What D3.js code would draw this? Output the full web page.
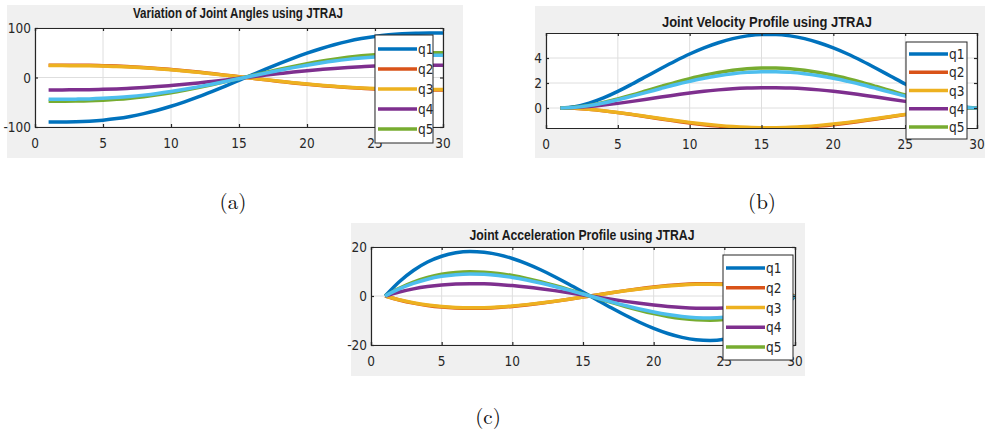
<!DOCTYPE html>
<html>

<head>
  <meta charset="utf-8">
  <script src="https://d3js.org/d3.v7.min.js"></script>
  <title>JTRAJ profiles</title>
  <style>
    body {
      margin: 0px;
      background: #ffffff;
    }

    .tick-label {
      fill: #262626;
      font-size: 13.5px;
      font-family: "Liberation Sans Narrow", "DejaVu Sans Condensed", "Liberation Sans", sans-serif;
      font-stretch: condensed;
    }

    .title {
      fill: #1a1a1a;
      font-size: 14.5px;
      font-weight: bold;
      font-family: "Liberation Sans Narrow", "Liberation Sans", sans-serif;
    }

    .caption {
      fill: #111;
      font-size: 21px;
      font-family: "Latin Modern Roman", "DejaVu Serif", "Liberation Serif", serif;
    }
  </style>
</head>

<body>
  <svg width="985" height="435"></svg>
  <script>

    //data
    const steps = [1, 2, 3, 4, 5, 6, 7, 8, 9, 10, 11, 12, 13, 14, 15, 16, 17, 18, 19, 20, 21, 22, 23, 24, 25, 26, 27, 28, 29, 30];
    const legendLabels = ['q1', 'q2', 'q3', 'q4', 'q5'];

    //joint angles
    const angQ1 = [-90, -89.9, -89.5, -88.3, -86.2, -83.0, -78.6, -73.0, -66.1, -58.1, -49.1, -39.2, -28.5, -17.3, -5.8, 5.8, 17.3, 28.5, 39.2, 49.1, 58.1, 66.1, 73.0, 78.6, 83.0, 86.2, 88.3, 89.5, 89.9, 90];
    const angQ2 = [25, 25.0, 24.9, 24.5, 23.9, 23.1, 21.8, 20.3, 18.4, 16.1, 13.6, 10.9, 7.9, 4.8, 1.6, -1.6, -4.8, -7.9, -10.9, -13.6, -16.1, -18.4, -20.3, -21.8, -23.1, -23.9, -24.5, -24.9, -25.0, -25];
    const angQ3 = [24, 24.0, 23.9, 23.5, 23.0, 22.1, 21.0, 19.5, 17.6, 15.5, 13.1, 10.4, 7.6, 4.6, 1.5, -1.5, -4.6, -7.6, -10.4, -13.1, -15.5, -17.6, -19.5, -21.0, -22.1, -23.0, -23.5, -23.9, -24.0, -24];
    const angQ4 = [-25, -25.0, -24.9, -24.5, -23.9, -23.1, -21.8, -20.3, -18.4, -16.1, -13.6, -10.9, -7.9, -4.8, -1.6, 1.6, 4.8, 7.9, 10.9, 13.6, 16.1, 18.4, 20.3, 21.8, 23.1, 23.9, 24.5, 24.9, 25.0, 25];
    const angQ5 = [-48, -48.0, -47.7, -47.1, -45.9, -44.2, -41.8, -38.7, -35.0, -30.7, -25.7, -20.3, -14.5, -8.4, -2.2, 4.2, 10.4, 16.5, 22.3, 27.7, 32.7, 37.0, 40.7, 43.8, 46.2, 47.9, 49.1, 49.7, 50.0, 50];
    const angQ6 = [-44, -44.0, -43.7, -43.2, -42.1, -40.5, -38.4, -35.6, -32.2, -28.2, -23.8, -18.9, -13.6, -8.1, -2.4, 3.4, 9.1, 14.6, 19.9, 24.8, 29.2, 33.2, 36.6, 39.4, 41.5, 43.1, 44.2, 44.7, 45.0, 45];

    //joint velocities
    const velQ1 = [0, 0.10, 0.39, 0.81, 1.33, 1.92, 2.54, 3.16, 3.76, 4.32, 4.81, 5.22, 5.55, 5.77, 5.88, 5.88, 5.77, 5.55, 5.22, 4.81, 4.32, 3.76, 3.16, 2.54, 1.92, 1.33, 0.81, 0.39, 0.10, 0];
    const velQ2 = [0, -0.03, -0.11, -0.23, -0.37, -0.53, -0.70, -0.88, -1.04, -1.20, -1.34, -1.45, -1.54, -1.60, -1.63, -1.63, -1.60, -1.54, -1.45, -1.34, -1.20, -1.04, -0.88, -0.70, -0.53, -0.37, -0.23, -0.11, -0.03, 0];
    const velQ3 = [0, -0.03, -0.10, -0.22, -0.36, -0.51, -0.68, -0.84, -1.00, -1.15, -1.28, -1.39, -1.48, -1.54, -1.57, -1.57, -1.54, -1.48, -1.39, -1.28, -1.15, -1.00, -0.84, -0.68, -0.51, -0.36, -0.22, -0.10, -0.03, 0];
    const velQ4 = [0, 0.03, 0.11, 0.23, 0.37, 0.53, 0.70, 0.88, 1.04, 1.20, 1.34, 1.45, 1.54, 1.60, 1.63, 1.63, 1.60, 1.54, 1.45, 1.34, 1.20, 1.04, 0.88, 0.70, 0.53, 0.37, 0.23, 0.11, 0.03, 0];
    const velQ5 = [0, 0.06, 0.21, 0.44, 0.73, 1.04, 1.38, 1.72, 2.05, 2.35, 2.62, 2.84, 3.02, 3.14, 3.20, 3.20, 3.14, 3.02, 2.84, 2.62, 2.35, 2.05, 1.72, 1.38, 1.04, 0.73, 0.44, 0.21, 0.06, 0];
    const velQ6 = [0, 0.05, 0.19, 0.40, 0.66, 0.95, 1.25, 1.56, 1.86, 2.13, 2.38, 2.58, 2.74, 2.85, 2.91, 2.91, 2.85, 2.74, 2.58, 2.38, 2.13, 1.86, 1.56, 1.25, 0.95, 0.66, 0.40, 0.19, 0.05, 0];

    //joint accelerations
    const accQ1 = [0, 5.84, 10.43, 13.87, 16.23, 17.62, 18.13, 17.85, 16.88, 15.30, 13.22, 10.71, 7.88, 4.82, 1.62, -1.62, -4.82, -7.88, -10.71, -13.22, -15.30, -16.88, -17.85, -18.13, -17.62, -16.23, -13.87, -10.43, -5.84, 0];
    const accQ2 = [0, -1.62, -2.90, -3.85, -4.51, -4.90, -5.04, -4.96, -4.69, -4.25, -3.67, -2.98, -2.19, -1.34, -0.45, 0.45, 1.34, 2.19, 2.98, 3.67, 4.25, 4.69, 4.96, 5.04, 4.90, 4.51, 3.85, 2.90, 1.62, 0];
    const accQ3 = [0, -1.56, -2.78, -3.70, -4.33, -4.70, -4.84, -4.76, -4.50, -4.08, -3.52, -2.86, -2.10, -1.29, -0.43, 0.43, 1.29, 2.10, 2.86, 3.52, 4.08, 4.50, 4.76, 4.84, 4.70, 4.33, 3.70, 2.78, 1.56, 0];
    const accQ4 = [0, 1.62, 2.90, 3.85, 4.51, 4.90, 5.04, 4.96, 4.69, 4.25, 3.67, 2.98, 2.19, 1.34, 0.45, -0.45, -1.34, -2.19, -2.98, -3.67, -4.25, -4.69, -4.96, -5.04, -4.90, -4.51, -3.85, -2.90, -1.62, 0];
    const accQ5 = [0, 3.18, 5.68, 7.55, 8.84, 9.59, 9.87, 9.72, 9.19, 8.33, 7.20, 5.83, 4.29, 2.63, 0.88, -0.88, -2.63, -4.29, -5.83, -7.20, -8.33, -9.19, -9.72, -9.87, -9.59, -8.84, -7.55, -5.68, -3.18, 0];
    const accQ6 = [0, 2.89, 5.16, 6.86, 8.02, 8.71, 8.96, 8.83, 8.35, 7.57, 6.53, 5.30, 3.90, 2.38, 0.80, -0.80, -2.38, -3.90, -5.30, -6.53, -7.57, -8.35, -8.83, -8.96, -8.71, -8.02, -6.86, -5.16, -2.89, 0];

    const xTickValues = [0, 5, 10, 15, 20, 25, 30];

    //matlab default line colors
    const colors = ['#0072BD', '#D95319', '#EDB120', '#7E2F8E', '#77AC30', '#4DBEEE'];

    const svg = d3.select('svg');

    //one panel = gray figure background + white axes + lines + legend
    function drawPanel(p, id) {
      svg.append('rect')
        .attr('x', p.bg[0]).attr('y', p.bg[1])
        .attr('width', p.bg[2]).attr('height', p.bg[3])
        .attr('fill', '#f0f0f0');

      const xScale = d3.scaleLinear().domain([0, 30]).range([p.left, p.right]);
      const yScale = d3.scaleLinear().domain(p.yDomain).range([p.bottom, p.top]);

      svg.append('rect')
        .attr('x', p.left).attr('y', p.top)
        .attr('width', p.right - p.left).attr('height', p.bottom - p.top)
        .attr('fill', '#ffffff');

      //grid
      const grid = svg.append('g').attr('stroke', '#dedede').attr('stroke-width', 1);
      grid.selectAll('.vx').data(xTickValues).enter().append('line')
        .attr('x1', d => xScale(d)).attr('x2', d => xScale(d))
        .attr('y1', p.top).attr('y2', p.bottom);
      grid.selectAll('.hy').data(p.yTicks).enter().append('line')
        .attr('x1', p.left).attr('x2', p.right)
        .attr('y1', d => yScale(d)).attr('y2', d => yScale(d));

      //lines
      svg.append('clipPath').attr('id', 'clip' + id)
        .append('rect')
        .attr('x', p.left).attr('y', p.top)
        .attr('width', p.right - p.left).attr('height', p.bottom - p.top);

      const line = d3.line()
        .x((d, i) => xScale(steps[i]))
        .y(d => yScale(d))
        .curve(d3.curveMonotoneX);

      svg.append('g').attr('clip-path', `url(#clip${id})`)
        .selectAll('path').data(p.series).enter().append('path')
        .attr('d', d => line(d))
        .attr('fill', 'none')
        .attr('stroke', (d, i) => colors[i])
        .attr('stroke-width', 3.5)
        .attr('stroke-linejoin', 'round');

      //axes box + inward ticks
      const xAxisB = d3.axisBottom(xScale).tickValues(xTickValues).tickSize(-3).tickFormat('');
      const xAxisT = d3.axisTop(xScale).tickValues(xTickValues).tickSize(-3).tickFormat('');
      const yAxisL = d3.axisLeft(yScale).tickValues(p.yTicks).tickSize(-3).tickFormat('');
      const yAxisR = d3.axisRight(yScale).tickValues(p.yTicks).tickSize(-3).tickFormat('');
      [[xAxisB, `translate(0,${p.bottom})`], [xAxisT, `translate(0,${p.top})`],
       [yAxisL, `translate(${p.left},0)`], [yAxisR, `translate(${p.right},0)`]].forEach(a => {
        const g = svg.append('g').attr('transform', a[1]).call(a[0]);
        g.selectAll('path, line').attr('stroke', '#262626').attr('stroke-width', 1.2);
      });

      //tick labels
      svg.selectAll('.xl' + id).data(xTickValues).enter().append('text')
        .attr('class', 'tick-label')
        .attr('x', d => xScale(d))
        .attr('y', p.bottom + 21)
        .attr('text-anchor', 'middle')
        .text(d => d);
      svg.selectAll('.yl' + id).data(p.yTicks).enter().append('text')
        .attr('class', 'tick-label')
        .attr('x', p.left - 4)
        .attr('y', d => yScale(d) + 5)
        .attr('text-anchor', 'end')
        .text(d => d);

      //title
      svg.append('text')
        .attr('class', 'title')
        .attr('x', p.titleX).attr('y', p.titleY)
        .attr('text-anchor', 'middle')
        .attr('textLength', p.titleW)
        .attr('lengthAdjust', 'spacingAndGlyphs')
        .text(p.title);

      //legend
      const lg = svg.append('g').attr('transform', `translate(${p.legend[0]},${p.legend[1]})`);
      lg.append('rect')
        .attr('width', p.legend[2]).attr('height', p.legend[3])
        .attr('fill', '#ffffff').attr('stroke', '#262626').attr('stroke-width', 1);
      const rowH = (p.legend[3] - 2 * p.legendPad) / (legendLabels.length - 1);
      legendLabels.forEach((lab, i) => {
        const y = p.legendPad + i * rowH;
        lg.append('line')
          .attr('x1', 3).attr('x2', 42).attr('y1', y).attr('y2', y)
          .attr('stroke', colors[i]).attr('stroke-width', 3.5);
        lg.append('text')
          .attr('class', 'tick-label')
          .attr('x', 43).attr('y', y + 5)
          .text(lab);
      });

      //caption
      svg.append('text')
        .attr('class', 'caption')
        .attr('x', p.capX).attr('y', p.capY)
        .attr('text-anchor', 'middle')
        .text(p.caption);
    }

    drawPanel({
      bg: [7, 5, 456, 153], left: 35, right: 443, top: 28, bottom: 127,
      yDomain: [-100, 100], yTicks: [-100, 0, 100],
      series: [angQ1, angQ2, angQ3, angQ4, angQ5, angQ6],
      title: 'Variation of Joint Angles using JTRAJ', titleX: 238, titleY: 18, titleW: 210,
      legend: [375, 35, 58, 108], legendPad: 14,
      caption: '(a)', capX: 233, capY: 209
    }, 'a');

    drawPanel({
      bg: [535, 6, 450, 152], left: 546, right: 977, top: 33, bottom: 128,
      yDomain: [-1.6, 6], yTicks: [0, 2, 4],
      series: [velQ1, velQ2, velQ3, velQ4, velQ5, velQ6],
      title: 'Joint Velocity Profile using JTRAJ', titleX: 767, titleY: 27, titleW: 210,
      legend: [906, 42, 61, 97], legendPad: 12,
      caption: '(b)', capX: 762, capY: 209
    }, 'b');

    drawPanel({
      bg: [351, 223, 454, 153], left: 371, right: 795, top: 247, bottom: 345,
      yDomain: [-20, 20], yTicks: [-20, 0, 20],
      series: [accQ1, accQ2, accQ3, accQ4, accQ5, accQ6],
      title: 'Joint Acceleration Profile using JTRAJ', titleX: 582, titleY: 240, titleW: 225,
      legend: [723, 255, 70, 105], legendPad: 13,
      caption: '(c)', capX: 488, capY: 424
    }, 'c');

  </script>
</body>

</html>
